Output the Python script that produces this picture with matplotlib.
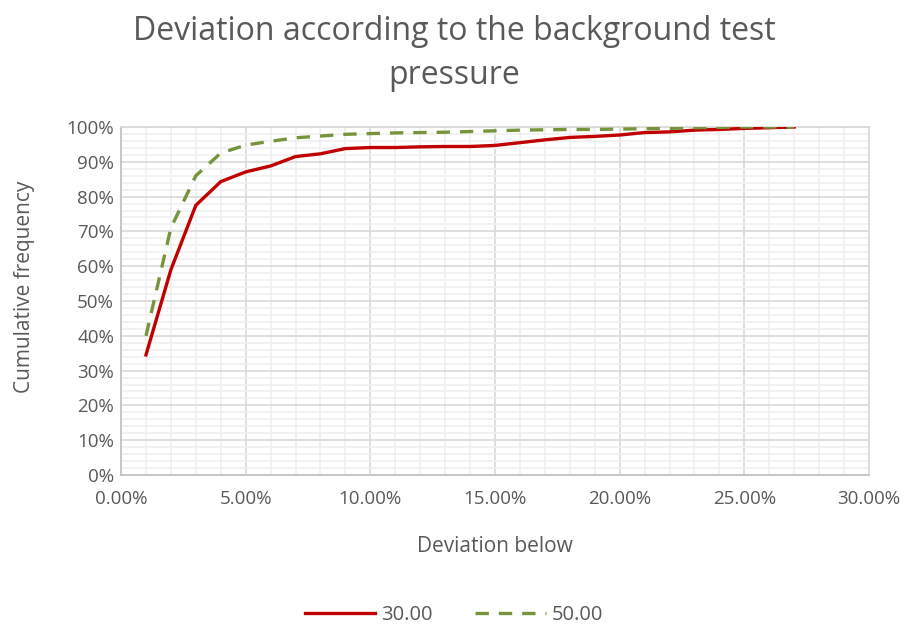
import matplotlib.pyplot as plt
from matplotlib.ticker import MultipleLocator, FuncFormatter

plt.rcParams['font.family'] = ['Open Sans', 'DejaVu Sans']

# deviation below (%) and cumulative frequency (%) for the two test pressures
deviation = list(range(1, 28))
freq_30 = [34.5, 59.0, 77.5, 84.3, 87.1, 88.8, 91.5, 92.3, 93.8, 94.1, 94.1, 94.3,
           94.4, 94.4, 94.7, 95.5, 96.3, 97.0, 97.3, 97.7, 98.4, 98.6, 99.1, 99.3,
           99.6, 99.8, 100.0]
freq_50 = [40.0, 71.0, 86.0, 92.5, 94.8, 95.9, 96.9, 97.4, 97.9, 98.1, 98.3, 98.4,
           98.5, 98.7, 98.9, 99.1, 99.2, 99.3, 99.3, 99.4, 99.5, 99.6, 99.8, 99.9,
           100.0, 100.0, 100.0]

grey = '#595959'

fig = plt.figure(figsize=(9.08, 6.25), dpi=100)
ax = fig.add_axes([0.1333, 0.24, 0.8237, 0.5568])

ax.plot(deviation, freq_30, color='#C00000', lw=2.4, label='30.00', zorder=3)
ax.plot(deviation, freq_50, color='#77933C', lw=2.4, ls=(0, (4, 3)), label='50.00', zorder=3)

ax.set_xlim(0, 30)
ax.set_ylim(0, 100)
ax.xaxis.set_major_locator(MultipleLocator(5))
ax.xaxis.set_minor_locator(MultipleLocator(1))
ax.yaxis.set_major_locator(MultipleLocator(10))
ax.yaxis.set_minor_locator(MultipleLocator(2))
ax.xaxis.set_major_formatter(FuncFormatter(lambda v, p: f'{v:.2f}%'))
ax.yaxis.set_major_formatter(FuncFormatter(lambda v, p: f'{v:.0f}%'))

ax.grid(which='major', color='#D9D9D9', lw=1.2)
ax.grid(which='minor', color='#F0F0F0', lw=1.2)
ax.set_axisbelow(True)
ax.tick_params(which='both', length=0, colors=grey, labelsize=13.5)
ax.tick_params(axis='x', pad=11)
ax.tick_params(axis='y', pad=5)
for side in ['top', 'right', 'left', 'bottom']:
    ax.spines[side].set_color('#D9D9D9')
    ax.spines[side].set_linewidth(1.2)
ax.spines['bottom'].set_color('#BFBFBF')
ax.spines['left'].set_color('#BFBFBF')

ax.set_xlabel('Deviation below', color=grey, fontsize=15, labelpad=20)
ax.set_ylabel('Cumulative frequency', color=grey, fontsize=15, labelpad=23)
ax.yaxis.label.set_y(0.54)

fig.text(0.5, 0.914, 'Deviation according to the background test\npressure',
         ha='center', va='center', color=grey, fontsize=23, linespacing=1.45)

fig.legend(loc='center', bbox_to_anchor=(0.5, 0.016), ncol=2, frameon=False,
           fontsize=14.5, labelcolor=grey, handlelength=3.5, columnspacing=2.1,
           handletextpad=0.3)

fig.savefig('out.png', dpi=100)
